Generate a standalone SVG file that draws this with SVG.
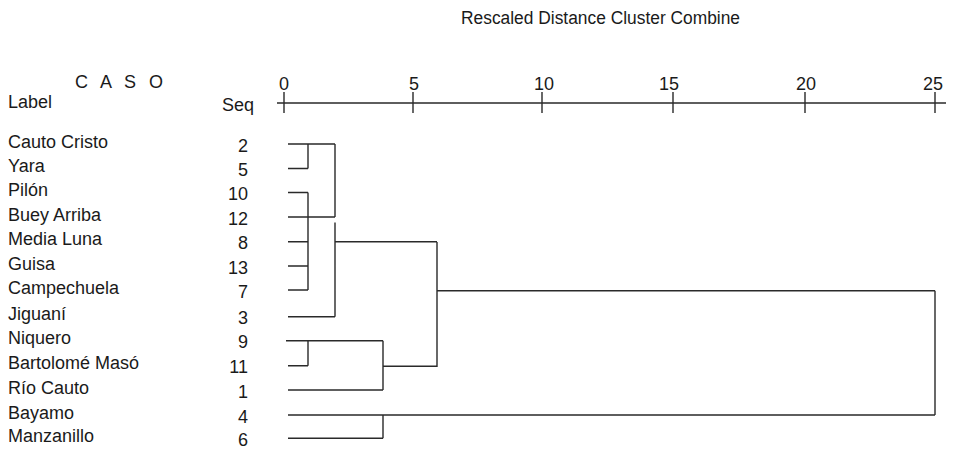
<svg xmlns="http://www.w3.org/2000/svg" width="953" height="449" viewBox="0 0 953 449">
<style>
text{font-family:"Liberation Sans",Arial,sans-serif;fill:#1a1a1a;font-size:18px}
.lbl{font-size:17.5px}
.seq{text-anchor:end}
.tk{text-anchor:middle}
.ln{stroke:#2a2a2a;stroke-width:1.4;fill:none}
</style>
<rect width="953" height="449" fill="#fff"/>
<g id="title"><text x="461" y="24" font-size="16.5" textLength="279" lengthAdjust="spacingAndGlyphs">Rescaled Distance Cluster Combine</text></g>
<g id="headers">
<text x="75" y="88" textLength="88" lengthAdjust="spacing">C A S O</text>
<text x="8" y="108">Label</text>
<text x="222" y="111">Seq</text>
</g>
<g id="axis">
<path class="ln" d="M277 103H946M284 92V113M413 92V113M542 92V113M673 92V113M805 92V113M935 92V113"/>
<text class="tk" x="284" y="90">0</text>
<text class="tk" x="414" y="90">5</text>
<text class="tk" x="544" y="90">10</text>
<text class="tk" x="669" y="90">15</text>
<text class="tk" x="806" y="90">20</text>
<text class="tk" x="933" y="90">25</text>
</g>
<g id="labels" class="lbl">
<text x="8" y="147.5">Cauto Cristo</text>
<text x="8" y="172">Yara</text>
<text x="8" y="196">Pilón</text>
<text x="8" y="220.5">Buey Arriba</text>
<text x="8" y="245">Media Luna</text>
<text x="8" y="269.5">Guisa</text>
<text x="8" y="293.5">Campechuela</text>
<text x="8" y="320">Jiguaní</text>
<text x="8" y="344">Niquero</text>
<text x="8" y="369">Bartolomé Masó</text>
<text x="8" y="393.5">Río Cauto</text>
<text x="8" y="418.5">Bayamo</text>
<text x="8" y="442">Manzanillo</text>
</g>
<g id="seq">
<text class="seq" x="248" y="151.5">2</text>
<text class="seq" x="248" y="176">5</text>
<text class="seq" x="248" y="200">10</text>
<text class="seq" x="248" y="224.5">12</text>
<text class="seq" x="248" y="249">8</text>
<text class="seq" x="248" y="273.5">13</text>
<text class="seq" x="248" y="297.5">7</text>
<text class="seq" x="248" y="324">3</text>
<text class="seq" x="248" y="348">9</text>
<text class="seq" x="248" y="373">11</text>
<text class="seq" x="248" y="397.5">1</text>
<text class="seq" x="248" y="422.5">4</text>
<text class="seq" x="248" y="446">6</text>
</g>
<g id="connectors">
<path class="ln" d="M288 144H335M288 168.5H308M308 144V168.5M288 192.5H308M288 217H335M288 241.7H308M335 241.7H437M288 266H308M288 290H308M308 192.5V290M335 144V217M335 222.5V316.7M288 316.7H335"/>
<path class="ln" d="M437 290.7H935M437 242V367M286 340.7H383M288 365.7H308M308 340.7V365.7M383 340.7V390M383 366.3H437M288 390H383M288 415H935M288 438.3H383M383 415V438.3M935 290.7V415"/>
</g>
</svg>
